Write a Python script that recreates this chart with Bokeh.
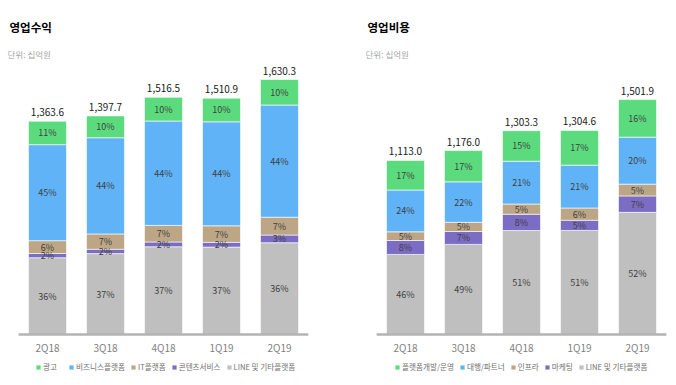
from bokeh.plotting import figure
from bokeh.layouts import row
from bokeh.models import ColumnDataSource, Legend, LegendItem, FactorRange, Range1d, Title, Span
from bokeh.embed import file_html
from bokeh.resources import INLINE
from bokeh.core.properties import value

FONT = "Noto Sans CJK KR"

quarters = ["2Q18", "3Q18", "4Q18", "1Q19", "2Q19"]

# 영업수익 (십억원) and share of each segment (%)
rev_total = [1363.6, 1397.7, 1516.5, 1510.9, 1630.3]
rev_line = [36, 37, 37, 37, 36]
rev_content = [2, 2, 2, 2, 3]
rev_it = [6, 7, 7, 7, 7]
rev_biz = [45, 44, 44, 44, 44]
rev_ad = [11, 10, 10, 10, 10]
rev_names = ["LINE 및 기타플랫폼", "콘텐츠서비스", "IT플랫폼", "비즈니스플랫폼", "광고"]

# 영업비용 (십억원) and share of each segment (%)
cost_total = [1113.0, 1176.0, 1303.3, 1304.6, 1501.9]
cost_line = [46, 49, 51, 51, 52]
cost_marketing = [8, 7, 8, 5, 7]
cost_infra = [5, 5, 5, 6, 5]
cost_agency = [24, 22, 21, 21, 20]
cost_platform = [17, 17, 15, 17, 16]
cost_names = ["LINE 및 기타플랫폼", "마케팅", "인프라", "대행/파트너", "플랫폼개발/운영"]

COLORS = ["#BFBFBF", "#7B6CC4", "#BDA685", "#61B3F7", "#5CDB7E"]
Y_MIN, Y_MAX = -262, 1739


def make(title, totals, shares, names, bl, br, leg_x):
    p = figure(x_range=FactorRange(factors=quarters), y_range=Range1d(Y_MIN, Y_MAX),
               width=bl + 290 + br, height=380, output_backend="svg", toolbar_location=None,
               min_border_left=bl, min_border_right=br, min_border_top=62,
               min_border_bottom=5, y_axis_location=None, title=None)
    p.outline_line_color = None
    p.xgrid.grid_line_color = None
    p.ygrid.grid_line_color = None

    keys = [f"s{i}" for i in range(len(shares))]
    data = {"q": quarters}
    for k, sh in zip(keys, shares):
        data[k] = [t * s / 100 for t, s in zip(totals, sh)]
    src = ColumnDataSource(data)
    rs = p.vbar_stack(keys, x="q", width=0.655, color=COLORS, line_color="white",
                      line_alpha=0.6, line_width=1, source=src)

    # percent labels
    lx, ly, lt = [], [], []
    for j, q in enumerate(quarters):
        base = 0.0
        for k, sh in zip(keys, shares):
            h = data[k][j]
            lx.append(q)
            ly.append(base + h / 2)
            lt.append(f"{sh[j]}%")
            base += h
    p.text(x=lx, y=ly, text=lt, text_align="center", text_baseline="middle",
           text_font=value(FONT), text_font_size="9px", text_color="#404040")

    # totals
    p.text(x=quarters, y=totals, text=[f"{t:,.1f}" for t in totals],
           text_align="center", text_baseline="bottom", y_offset=-5,
           text_font=value(FONT), text_font_size="10px", text_color="#1a1a1a")

    # baseline (category axis line)
    p.add_layout(Span(location=0, dimension="width", line_color="#B3B3B3", line_width=2,
                      level="overlay"))
    p.segment(x0=[0], y0=[0], x1=[len(quarters)], y1=[0], line_color="#B3B3B3", line_width=2)

    p.xaxis.fixed_location = 0
    p.xaxis.major_tick_line_color = None
    p.xaxis.minor_tick_line_color = None
    p.xaxis.axis_line_color = None
    p.xaxis.major_label_text_font = FONT
    p.xaxis.major_label_text_font_size = "10px"
    p.xaxis.major_label_text_color = "#7F7F7F"
    p.xaxis.major_label_standoff = -1

    p.add_layout(Title(text="단위: 십억원", align="left", offset=-11, standoff=6,
                       text_font=FONT, text_font_size="8.5px", text_font_style="normal",
                       text_color="#A6A6A6"), "above")
    p.add_layout(Title(text=title, align="left", offset=-9, standoff=15,
                       text_font=FONT, text_font_size="11.5px", text_font_style="bold",
                       text_color="#000000"), "above")

    items = [LegendItem(label=names[i], renderers=[rs[i]]) for i in reversed(range(len(names)))]
    leg = Legend(items=items, location=(leg_x, 3), orientation="horizontal",
                 label_text_font=FONT, label_text_font_size="7.6px", label_text_color="#6F6F6F",
                 glyph_width=6, glyph_height=6, label_standoff=2, spacing=5,
                 padding=0, margin=0, border_line_color=None, background_fill_alpha=0,
                 label_height=8)
    p.add_layout(leg)
    return p


p1 = make("영업수익", rev_total, [rev_line, rev_content, rev_it, rev_biz, rev_ad],
          rev_names, 18, 30, 17)
p2 = make("영업비용", cost_total, [cost_line, cost_marketing, cost_infra, cost_agency, cost_platform],
          cost_names, 38, 10, 18)

layout = row(p1, p2)
open("out.html", "w").write(file_html(layout, INLINE))
